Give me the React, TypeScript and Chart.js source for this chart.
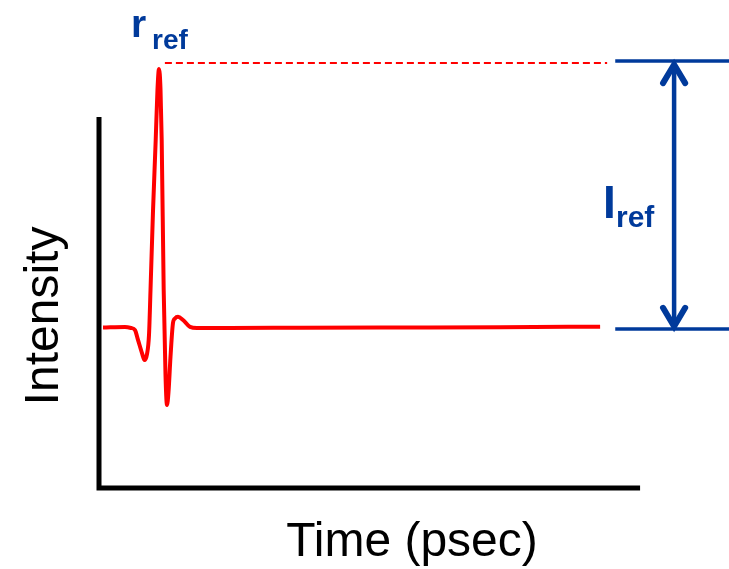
import { useEffect, useRef } from "react";
import { Chart, registerables } from "chart.js";
Chart.register(...registerables);

// Pulse (time in arbitrary psec units, intensity normalised: baseline 0, peak 1)
const pulseTime = [
  0.74, 4.81, 5.93, 6.67, 7.22, 7.96, 8.43, 8.89, 9.26, 9.54, 10.0, 10.5, 10.83, 11.11,
  11.39, 11.61, 11.98, 12.31, 12.59, 12.87, 13.24, 13.7, 14.07, 14.63, 15.56, 16.85,
  18.15, 24.26, 37.2, 55.7, 74.3, 92.8,
];
const pulseIntensity = [
  0, 0.002, -0.002, -0.01, -0.048, -0.099, -0.126, -0.103, -0.029, 0.145, 0.45, 0.725,
  0.92, 1.0, 0.92, 0.725, 0.145, -0.18, -0.3, -0.25, -0.114, 0.017, 0.035, 0.041, 0.029,
  0.002, -0.002, -0.002, -0.001, 0, 0.001, 0.003,
];

// Axis extent (time axis drawn from 0 to this value)
const timeAxisEnd = 100.2;

// Reference level (dashed) and I_ref marker
const refLineTime = [12.2, 94.1];
const refLineLevel = 1.023;
const markerTime = [95.6, 116.7];
const markerTop = 1.031;
const markerBottom = -0.006;
const arrowTime = 106.5;
const arrowStem = [1.015, 0.006];
const arrowHeadTime = [104.45, 106.5, 108.55];
const arrowTopHead = [0.945, 1.017, 0.945];
const arrowBottomHead = [0.076, 0.004, 0.076];

const xLabel = "Time (psec)";
const yLabel = "Intensity";
const rLabel = ["r", "ref"];
const iLabel = ["I", "ref"];

const RED = "#ff0000";
const BLUE = "#003a9b";
const FONT = '"Liberation Sans", Arial, sans-serif';

const pts = (xs: number[], ys: number[]) => xs.map((x, i) => ({ x, y: ys[i] }));

export default function App() {
  const ref = useRef<HTMLCanvasElement | null>(null);
  useEffect(() => {
    if (!ref.current) return;
    const decor = {
      id: "decor",
      beforeDatasetsDraw(chart: any) {
        const { ctx, chartArea } = chart;
        const xEnd = chart.scales.x.getPixelForValue(timeAxisEnd);
        ctx.save();
        ctx.strokeStyle = "#000";
        ctx.lineWidth = 5;
        ctx.lineCap = "butt";
        ctx.beginPath();
        ctx.moveTo(chartArea.left, chartArea.top);
        ctx.lineTo(chartArea.left, chartArea.bottom + 2.5);
        ctx.moveTo(chartArea.left - 2.5, chartArea.bottom);
        ctx.lineTo(xEnd, chartArea.bottom);
        ctx.stroke();
        ctx.restore();
      },
      afterDraw(chart: any) {
        const { ctx } = chart;
        ctx.save();
        ctx.fillStyle = "#000";
        ctx.font = `48px ${FONT}`;
        ctx.textAlign = "center";
        ctx.textBaseline = "alphabetic";
        ctx.fillText(xLabel, 412, 556);
        ctx.translate(58, 316);
        ctx.rotate(-Math.PI / 2);
        ctx.fillText(yLabel, 0, 0);
        ctx.restore();

        ctx.save();
        ctx.fillStyle = BLUE;
        ctx.textAlign = "left";
        ctx.textBaseline = "alphabetic";
        ctx.font = `bold 39px ${FONT}`;
        ctx.fillText(rLabel[0], 131, 37);
        ctx.font = `bold 28px ${FONT}`;
        ctx.fillText(rLabel[1], 152, 49);
        ctx.font = `bold 46px ${FONT}`;
        ctx.fillText(iLabel[0], 603, 218);
        ctx.font = `bold 30px ${FONT}`;
        ctx.fillText(iLabel[1], 616, 227);
        ctx.restore();
      },
    };
    const common = { pointRadius: 0, clip: false as any, tension: 0, fill: false };
    const chart = new Chart(ref.current, {
      type: "line",
      data: {
        datasets: [
          {
            ...common,
            data: pts(pulseTime, pulseIntensity),
            borderColor: RED,
            borderWidth: 4,
            cubicInterpolationMode: "monotone",
          },
          {
            ...common,
            data: pts(refLineTime, [refLineLevel, refLineLevel]),
            borderColor: RED,
            borderWidth: 2,
            borderDash: [7, 4],
          },
          {
            ...common,
            data: pts(markerTime, [markerTop, markerTop]),
            borderColor: BLUE,
            borderWidth: 3.5,
          },
          {
            ...common,
            data: pts(markerTime, [markerBottom, markerBottom]),
            borderColor: BLUE,
            borderWidth: 3.5,
          },
          {
            ...common,
            data: pts([arrowTime, arrowTime], arrowStem),
            borderColor: BLUE,
            borderWidth: 4.5,
          },
          {
            ...common,
            data: pts(arrowHeadTime, arrowTopHead),
            borderColor: BLUE,
            borderWidth: 6,
            borderCapStyle: "round",
            borderJoinStyle: "miter",
          },
          {
            ...common,
            data: pts(arrowHeadTime, arrowBottomHead),
            borderColor: BLUE,
            borderWidth: 6,
            borderCapStyle: "round",
            borderJoinStyle: "miter",
          },
        ] as any,
      },
      options: {
        responsive: false,
        animation: false,
        parsing: false as any,
        layout: { padding: { left: 99, top: 117, right: 0, bottom: 81 } },
        plugins: { legend: { display: false }, tooltip: { enabled: false } },
        scales: {
          x: { type: "linear", min: 0, max: 116.667, display: false },
          y: { type: "linear", min: -0.621, max: 0.814, display: false },
        },
      },
      plugins: [decor],
    });
    return () => chart.destroy();
  }, []);
  return (
    <div style={{ position: "fixed", left: 0, top: 0, width: 729, height: 569, background: "#fff" }}>
      <canvas ref={ref} width={729} height={569} />
    </div>
  );
}
